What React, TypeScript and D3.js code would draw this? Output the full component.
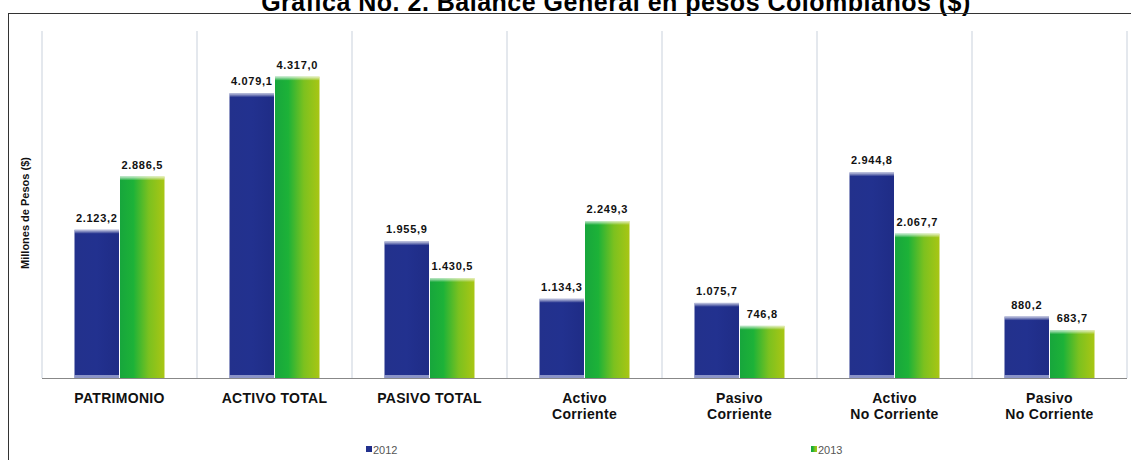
import React from "react";
import * as d3 from "d3";

const categories: string[][] = [
  ["PATRIMONIO"],
  ["ACTIVO TOTAL"],
  ["PASIVO TOTAL"],
  ["Activo", "Corriente"],
  ["Pasivo", "Corriente"],
  ["Activo", "No Corriente"],
  ["Pasivo", "No Corriente"],
];
const series2012: number[] = [2123.2, 4079.1, 1955.9, 1134.3, 1075.7, 2944.8, 880.2];
const series2013: number[] = [2886.5, 4317.0, 1430.5, 2249.3, 746.8, 2067.7, 683.7];
const seriesNames: string[] = ["2012", "2013"];
const title = "Gráfica No. 2. Balance General en pesos Colombianos ($)";
const yTitle = "Millones de Pesos ($)";

const W = 1131;
const H = 460;
const left = 42;
const right = 1127;
const top = 29;
const bottom = 378;

const locale = d3.formatLocale({ decimal: ",", thousands: ".", grouping: [3], currency: ["$", ""] });
const fmt = locale.format(",.1f");

export default function App() {
  const x = d3.scaleBand<number>().domain(d3.range(categories.length)).range([left, right]).paddingInner(0).paddingOuter(0);
  const y = d3.scaleLinear().domain([0, 5000]).range([bottom, top]);
  const bw = 44.5;
  const ids = categories.map((_, i) => i);
  const font = "Arial, 'Liberation Sans', sans-serif";

  const bars = [series2012, series2013];
  const fills = ["url(#gBlue)", "url(#gGreen)"];

  return (
    <svg width={W} height={H} style={{ position: "absolute", left: 0, top: 0, background: "#fff" }} fontFamily={font}>
      <defs>
        <linearGradient id="gBlue" x1="0" x2="1" y1="0" y2="0">
          <stop offset="0" stopColor="#23318c" />
          <stop offset="0.5" stopColor="#22318f" />
          <stop offset="1" stopColor="#1f2c86" />
        </linearGradient>
        <linearGradient id="gGreen" x1="0" x2="1" y1="0" y2="0">
          <stop offset="0" stopColor="#17a63c" />
          <stop offset="0.3" stopColor="#1db238" />
          <stop offset="0.65" stopColor="#7cc11f" />
          <stop offset="1" stopColor="#a9c614" />
        </linearGradient>
        <linearGradient id="gTop" x1="0" x2="0" y1="0" y2="1">
          <stop offset="0" stopColor="#ffffff" stopOpacity="0.75" />
          <stop offset="1" stopColor="#ffffff" stopOpacity="0" />
        </linearGradient>
      </defs>

      <text x={616} y={11} textAnchor="middle" fontSize={25} letterSpacing={0.5} fontWeight="bold" fill="#000">{title}</text>

      <rect x={8.5} y={13.5} width={1140} height={460} fill="none" stroke="#333" strokeWidth={1} />

      {d3.range(categories.length + 1).map((i) => {
        const xx = i < categories.length ? (x(i) as number) : right;
        return <line key={"g" + i} x1={xx} x2={xx} y1={top + 2} y2={bottom} stroke="#c9d1dc" strokeWidth={1} />;
      })}

      <line x1={left} x2={right} y1={bottom + 0.5} y2={bottom + 0.5} stroke="#888" strokeWidth={1} />

      {bars.map((s, si) =>
        ids.map((i) => {
          const cx = (x(i) as number) + x.bandwidth() / 2;
          const bx = si === 0 ? cx - bw - 0.5 : cx + 0.5;
          const by = y(s[i]);
          const h = bottom - by;
          return (
            <g key={`b${si}-${i}`}>
              <rect x={bx} y={by} width={bw} height={h} fill={fills[si]} />
              <rect x={bx} y={by} width={bw} height={4} fill="url(#gTop)" />
              {si === 0 && <rect x={bx} y={bottom - 3} width={bw} height={3} fill="#b8bfe0" opacity={0.7} />}
              <text x={bx + bw / 2} y={by - 8} textAnchor="middle" fontSize={11} letterSpacing={0.7} fontWeight="bold" fill="#111">{fmt(s[i])}</text>
            </g>
          );
        })
      )}

      {categories.map((lines, i) => {
        const cx = (x(i) as number) + x.bandwidth() / 2;
        return (
          <text key={"c" + i} x={cx} textAnchor="middle" fontSize={14} letterSpacing={0.3} fontWeight="bold" fill="#111">
            {lines.map((l, j) => (
              <tspan key={j} x={cx} y={403 + j * 16}>{l}</tspan>
            ))}
          </text>
        );
      })}

      <text transform={`translate(29,213) rotate(-90)`} textAnchor="middle" fontSize={11} fontWeight="bold" fill="#111">{yTitle}</text>

      {seriesNames.map((n, i) => {
        const lx = i === 0 ? 366 : 811;
        return (
          <g key={"l" + i}>
            <rect x={lx} y={446} width={6} height={6} fill={fills[i]} />
            <text x={lx + 7} y={454} fontSize={11} fill="#555">{n}</text>
          </g>
        );
      })}
    </svg>
  );
}
